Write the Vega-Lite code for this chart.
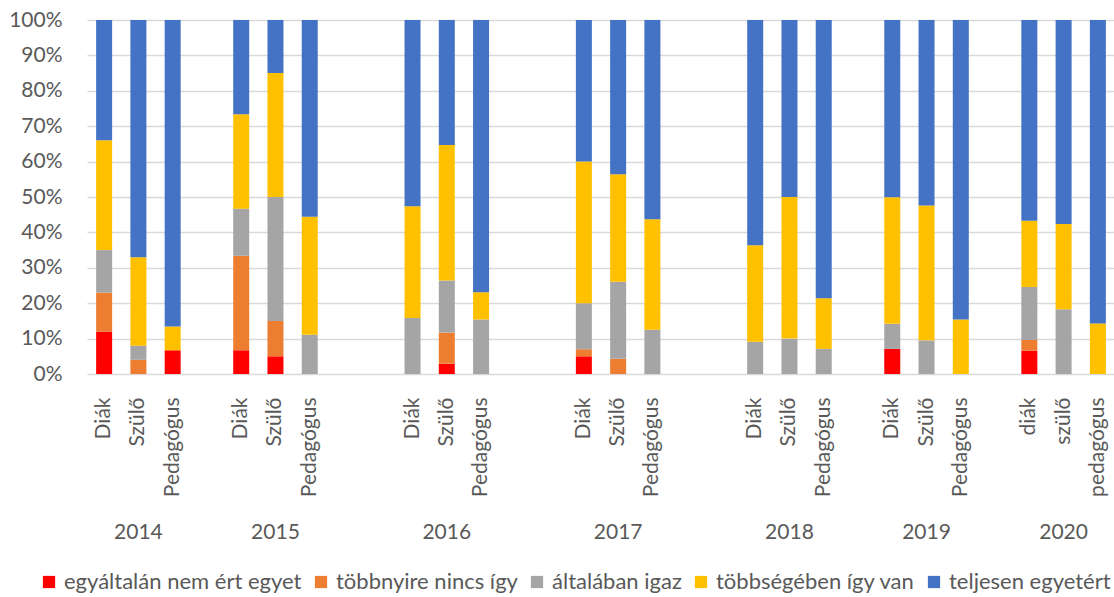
{
  "$schema": "https://vega.github.io/schema/vega-lite/v6.json",
  "autosize": {"type": "none"},
  "width": 1028,
  "height": 354,
  "padding": {"left": 87, "top": 20, "right": 0, "bottom": 223},
  "background": "white",
  "config": {
    "view": {"stroke": null},
    "font": "Lato",
    "axis": {"labelFont": "Lato", "labelColor": "#595959", "labelFontSize": 21, "titleFont": "Lato"},
    "legend": {"labelFont": "Lato", "labelColor": "#595959", "labelFontSize": 22}
  },
  "data": {"values": [
    {"g": "2014|Diák", "cat": "egyáltalán nem ért egyet", "o": 1, "v": 12},
    {"g": "2014|Diák", "cat": "többnyire nincs így", "o": 2, "v": 11},
    {"g": "2014|Diák", "cat": "általában igaz", "o": 3, "v": 12},
    {"g": "2014|Diák", "cat": "többségében így van", "o": 4, "v": 31},
    {"g": "2014|Diák", "cat": "teljesen egyetért", "o": 5, "v": 34},
    {"g": "2014|Szülő", "cat": "többnyire nincs így", "o": 2, "v": 4},
    {"g": "2014|Szülő", "cat": "általában igaz", "o": 3, "v": 4},
    {"g": "2014|Szülő", "cat": "többségében így van", "o": 4, "v": 25},
    {"g": "2014|Szülő", "cat": "teljesen egyetért", "o": 5, "v": 67},
    {"g": "2014|Pedagógus", "cat": "egyáltalán nem ért egyet", "o": 1, "v": 6.7},
    {"g": "2014|Pedagógus", "cat": "többségében így van", "o": 4, "v": 6.7},
    {"g": "2014|Pedagógus", "cat": "teljesen egyetért", "o": 5, "v": 86.6},
    {"g": "2015|Diák", "cat": "egyáltalán nem ért egyet", "o": 1, "v": 6.7},
    {"g": "2015|Diák", "cat": "többnyire nincs így", "o": 2, "v": 26.7},
    {"g": "2015|Diák", "cat": "általában igaz", "o": 3, "v": 13.3},
    {"g": "2015|Diák", "cat": "többségében így van", "o": 4, "v": 26.7},
    {"g": "2015|Diák", "cat": "teljesen egyetért", "o": 5, "v": 26.6},
    {"g": "2015|Szülő", "cat": "egyáltalán nem ért egyet", "o": 1, "v": 5},
    {"g": "2015|Szülő", "cat": "többnyire nincs így", "o": 2, "v": 10},
    {"g": "2015|Szülő", "cat": "általában igaz", "o": 3, "v": 35},
    {"g": "2015|Szülő", "cat": "többségében így van", "o": 4, "v": 35},
    {"g": "2015|Szülő", "cat": "teljesen egyetért", "o": 5, "v": 15},
    {"g": "2015|Pedagógus", "cat": "általában igaz", "o": 3, "v": 11.1},
    {"g": "2015|Pedagógus", "cat": "többségében így van", "o": 4, "v": 33.3},
    {"g": "2015|Pedagógus", "cat": "teljesen egyetért", "o": 5, "v": 55.6},
    {"g": "2016|Diák", "cat": "általában igaz", "o": 3, "v": 15.8},
    {"g": "2016|Diák", "cat": "többségében így van", "o": 4, "v": 31.6},
    {"g": "2016|Diák", "cat": "teljesen egyetért", "o": 5, "v": 52.6},
    {"g": "2016|Szülő", "cat": "egyáltalán nem ért egyet", "o": 1, "v": 2.9},
    {"g": "2016|Szülő", "cat": "többnyire nincs így", "o": 2, "v": 8.8},
    {"g": "2016|Szülő", "cat": "általában igaz", "o": 3, "v": 14.7},
    {"g": "2016|Szülő", "cat": "többségében így van", "o": 4, "v": 38.2},
    {"g": "2016|Szülő", "cat": "teljesen egyetért", "o": 5, "v": 35.3},
    {"g": "2016|Pedagógus", "cat": "általában igaz", "o": 3, "v": 15.4},
    {"g": "2016|Pedagógus", "cat": "többségében így van", "o": 4, "v": 7.7},
    {"g": "2016|Pedagógus", "cat": "teljesen egyetért", "o": 5, "v": 76.9},
    {"g": "2017|Diák", "cat": "egyáltalán nem ért egyet", "o": 1, "v": 5},
    {"g": "2017|Diák", "cat": "többnyire nincs így", "o": 2, "v": 2},
    {"g": "2017|Diák", "cat": "általában igaz", "o": 3, "v": 13},
    {"g": "2017|Diák", "cat": "többségében így van", "o": 4, "v": 40},
    {"g": "2017|Diák", "cat": "teljesen egyetért", "o": 5, "v": 40},
    {"g": "2017|Szülő", "cat": "többnyire nincs így", "o": 2, "v": 4.3},
    {"g": "2017|Szülő", "cat": "általában igaz", "o": 3, "v": 21.7},
    {"g": "2017|Szülő", "cat": "többségében így van", "o": 4, "v": 30.4},
    {"g": "2017|Szülő", "cat": "teljesen egyetért", "o": 5, "v": 43.5},
    {"g": "2017|Pedagógus", "cat": "általában igaz", "o": 3, "v": 12.5},
    {"g": "2017|Pedagógus", "cat": "többségében így van", "o": 4, "v": 31.25},
    {"g": "2017|Pedagógus", "cat": "teljesen egyetért", "o": 5, "v": 56.25},
    {"g": "2018|Diák", "cat": "általában igaz", "o": 3, "v": 9.1},
    {"g": "2018|Diák", "cat": "többségében így van", "o": 4, "v": 27.3},
    {"g": "2018|Diák", "cat": "teljesen egyetért", "o": 5, "v": 63.6},
    {"g": "2018|Szülő", "cat": "általában igaz", "o": 3, "v": 10},
    {"g": "2018|Szülő", "cat": "többségében így van", "o": 4, "v": 40},
    {"g": "2018|Szülő", "cat": "teljesen egyetért", "o": 5, "v": 50},
    {"g": "2018|Pedagógus", "cat": "általában igaz", "o": 3, "v": 7.1},
    {"g": "2018|Pedagógus", "cat": "többségében így van", "o": 4, "v": 14.3},
    {"g": "2018|Pedagógus", "cat": "teljesen egyetért", "o": 5, "v": 78.6},
    {"g": "2019|Diák", "cat": "egyáltalán nem ért egyet", "o": 1, "v": 7.1},
    {"g": "2019|Diák", "cat": "általában igaz", "o": 3, "v": 7.1},
    {"g": "2019|Diák", "cat": "többségében így van", "o": 4, "v": 35.7},
    {"g": "2019|Diák", "cat": "teljesen egyetért", "o": 5, "v": 50.1},
    {"g": "2019|Szülő", "cat": "általában igaz", "o": 3, "v": 9.5},
    {"g": "2019|Szülő", "cat": "többségében így van", "o": 4, "v": 38.1},
    {"g": "2019|Szülő", "cat": "teljesen egyetért", "o": 5, "v": 52.4},
    {"g": "2019|Pedagógus", "cat": "többségében így van", "o": 4, "v": 15.4},
    {"g": "2019|Pedagógus", "cat": "teljesen egyetért", "o": 5, "v": 84.6},
    {"g": "2020|diák", "cat": "egyáltalán nem ért egyet", "o": 1, "v": 6.6},
    {"g": "2020|diák", "cat": "többnyire nincs így", "o": 2, "v": 3},
    {"g": "2020|diák", "cat": "általában igaz", "o": 3, "v": 15},
    {"g": "2020|diák", "cat": "többségében így van", "o": 4, "v": 18.7},
    {"g": "2020|diák", "cat": "teljesen egyetért", "o": 5, "v": 56.7},
    {"g": "2020|szülő", "cat": "általában igaz", "o": 3, "v": 18.3},
    {"g": "2020|szülő", "cat": "többségében így van", "o": 4, "v": 24.1},
    {"g": "2020|szülő", "cat": "teljesen egyetért", "o": 5, "v": 57.6},
    {"g": "2020|pedagógus", "cat": "többségében így van", "o": 4, "v": 14.3},
    {"g": "2020|pedagógus", "cat": "teljesen egyetért", "o": 5, "v": 85.7}
  ]},
  "resolve": {"axis": {"x": "independent"}},
  "layer": [
    {
      "mark": {"type": "bar", "width": 16},
      "encoding": {
        "x": {
          "field": "g", "type": "nominal", "sort": null,
          "scale": {
            "domain": ["2014|Diák","2014|Szülő","2014|Pedagógus","2014|_a",
                       "2015|Diák","2015|Szülő","2015|Pedagógus","2015|_a","2015|_b",
                       "2016|Diák","2016|Szülő","2016|Pedagógus","2016|_a","2016|_b",
                       "2017|Diák","2017|Szülő","2017|Pedagógus","2017|_a","2017|_b",
                       "2018|Diák","2018|Szülő","2018|Pedagógus","2018|_a",
                       "2019|Diák","2019|Szülő","2019|Pedagógus","2019|_a",
                       "2020|diák","2020|szülő","2020|pedagógus"],
            "paddingInner": 0, "paddingOuter": 0
          },
          "axis": {
            "title": null, "domain": false, "ticks": false, "labelAngle": -90,
            "labelAlign": "right", "labelBaseline": "middle", "labelPadding": 23,
            "labelExpr": "indexof(datum.value, '_') >= 0 ? '' : split(datum.value, '|')[1]"
          }
        },
        "y": {
          "aggregate": "sum", "field": "v", "type": "quantitative", "stack": "normalize",
          "scale": {"domain": [0, 1]},
          "axis": {
            "title": null, "domain": false, "ticks": false, "format": ".0%",
            "values": [0, 0.1, 0.2, 0.3, 0.4, 0.5, 0.6, 0.7, 0.8, 0.9, 1],
            "gridColor": "#d9d9d9", "gridWidth": 1.5, "labelPadding": 25
          }
        },
        "color": {
          "field": "cat", "type": "nominal",
          "scale": {
            "domain": ["egyáltalán nem ért egyet", "többnyire nincs így", "általában igaz", "többségében így van", "teljesen egyetért"],
            "range": ["#FF0000", "#ED7D31", "#A5A5A5", "#FFC000", "#4472C4"]
          },
          "legend": {
            "title": null, "orient": "none", "direction": "horizontal",
            "legendX": -49, "legendY": 551, "symbolType": "square", "symbolSize": 150,
            "symbolStrokeWidth": 0, "columnPadding": 8, "labelOffset": 4, "labelLimit": 0
          }
        },
        "order": {"field": "o", "type": "quantitative"}
      }
    },
    {
      "mark": {"type": "text", "text": ""},
      "encoding": {
        "x": {
          "field": "g", "type": "nominal", "sort": null,
          "axis": {
            "orient": "bottom", "title": null, "domain": false, "ticks": false, "grid": false,
            "labelAngle": 0, "labelAlign": "center", "labelBaseline": "top",
            "offset": 132, "labelPadding": 15, "labelOverlap": false,
            "labelExpr": "lower(split(datum.value, '|')[1]) == 'szülő' ? split(datum.value, '|')[0] : ''"
          }
        }
      }
    }
  ]
}
